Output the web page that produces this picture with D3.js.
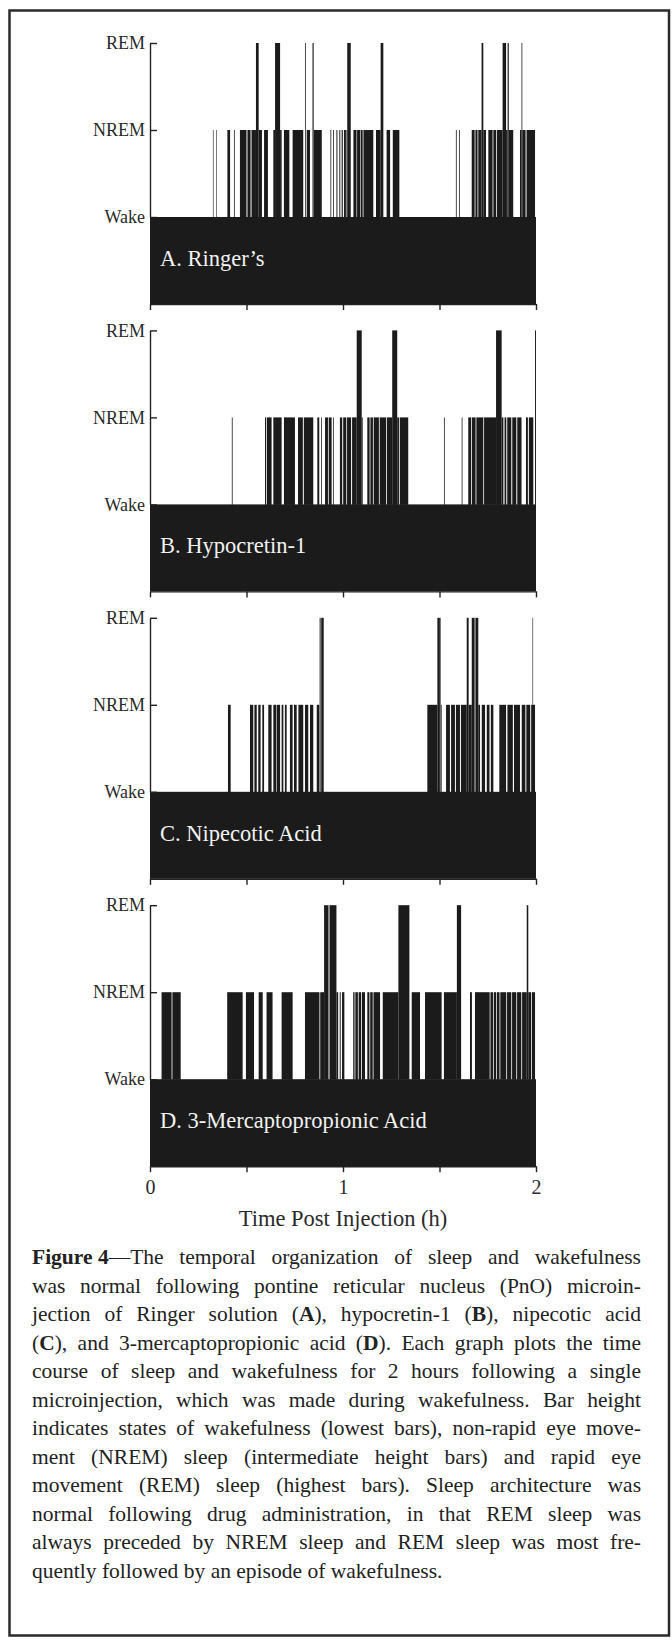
<!DOCTYPE html>
<html><head><meta charset="utf-8">
<script src="https://cdn.jsdelivr.net/npm/d3@7"></script>
<style>
html,body{margin:0;padding:0;background:#fff;}
svg{display:block;}
</style></head><body>
<svg id="chart" width="672" height="1644"></svg>
<script>
// ---------- DATA ----------
const panelLabels = ["A. Ringer\u2019s", "B. Hypocretin-1", "C. Nipecotic Acid", "D. 3-Mercaptopropionic Acid"];
const stateNames = ["Wake", "NREM", "REM"];      // state levels 1,2,3
const timeDomain = [0, 2];                        // hours
const xTicks = [0, 0.5, 1, 1.5, 2];
const xTickLabels = {0: "0", 1: "1", 2: "2"};
const xTitle = "Time Post Injection (h)";

// sleep episodes, [start, end] in hours post injection (wake fills the rest)
const nremA = [[0.326,0.329],[0.344,0.347],[0.401,0.415],[0.435,0.439],[0.466,0.500],[0.505,0.521],[0.526,0.549],
  [0.563,0.580],[0.591,0.611],[0.639,0.648],[0.674,0.682],[0.694,0.722],[0.739,0.794],[0.812,0.829],[0.849,0.890],
  [0.935,0.939],[0.949,0.953],[0.966,0.971],[0.981,0.986],[0.993,0.999],[1.005,1.015],[1.018,1.022],
  [1.054,1.070],[1.073,1.090],[1.093,1.102],[1.106,1.157],[1.171,1.195],[1.226,1.244],[1.258,1.292],
  [1.585,1.589],[1.601,1.605],[1.667,1.682],[1.686,1.697],[1.701,1.718],[1.727,1.741],
  [1.753,1.775],[1.779,1.793],[1.797,1.827],[1.845,1.853],[1.860,1.882],[1.917,1.925],[1.929,1.946],[1.951,1.995]];
const remA = [[0.549,0.563],[0.648,0.674],[0.803,0.807],[0.842,0.848],[1.022,1.040],[1.195,1.209],
  [1.718,1.727],[1.827,1.845],[1.853,1.859],[1.925,1.929]];

const nremB = [[0.424,0.428],[0.596,0.602],[0.606,0.630],[0.639,0.682],[0.694,0.751],[0.767,0.792],[0.797,0.846],
  [0.867,0.877],[0.887,0.891],[0.907,0.922],[0.926,0.941],[0.948,0.952],[0.984,0.996],[1.001,1.017],[1.021,1.042],
  [1.047,1.071],[1.097,1.102],[1.126,1.138],[1.142,1.155],[1.159,1.186],[1.190,1.224],[1.228,1.255],[1.281,1.290],
  [1.294,1.338],[1.523,1.527],[1.615,1.619],[1.649,1.664],[1.668,1.687],[1.691,1.727],[1.731,1.793],[1.822,1.831],
  [1.837,1.846],[1.851,1.872],[1.877,1.898],[1.903,1.925],[1.948,1.958],[1.963,1.986]];
const remB = [[1.071,1.097],[1.255,1.281],[1.793,1.822],[1.995,2.0]];

const nremC = [[0.404,0.418],[0.518,0.535],[0.541,0.553],[0.561,0.573],[0.582,0.591],[0.613,0.630],[0.639,0.655],
  [0.658,0.674],[0.682,0.691],[0.699,0.708],[0.725,0.739],[0.746,0.760],[0.769,0.794],[0.803,0.820],[0.829,0.846],
  [0.864,0.877],[1.437,1.489],[1.507,1.511],[1.534,1.554],[1.560,1.580],[1.585,1.606],[1.611,1.641],[1.651,1.667],
  [1.701,1.710],[1.719,1.736],[1.745,1.759],[1.766,1.779],[1.810,1.845],[1.852,1.880],[1.886,1.917],[1.926,1.945],
  [1.950,1.970],[1.975,1.995]];
const remC = [[0.879,0.884],[0.887,0.900],[1.489,1.502],[1.504,1.507],[1.641,1.651],[1.667,1.682],[1.686,1.701],[1.982,1.985]];

const nremD = [[0.060,0.112],[0.116,0.159],[0.400,0.480],[0.497,0.539],[0.563,0.584],[0.604,0.635],[0.682,0.739],
  [0.803,0.878],[0.882,0.902],[0.966,0.975],[0.983,0.988],[0.995,1.007],[1.053,1.060],[1.064,1.077],[1.081,1.094],
  [1.098,1.114],[1.126,1.137],[1.141,1.154],[1.158,1.192],[1.206,1.287],[1.356,1.399],[1.425,1.511],[1.523,1.590],
  [1.658,1.668],[1.684,1.760],[1.764,1.777],[1.781,1.794],[1.798,1.811],[1.815,1.846],[1.850,1.872],[1.876,1.898],
  [1.902,1.924],[1.928,1.952],[1.960,1.975],[1.979,1.995]];
const remD = [[0.902,0.925],[0.930,0.966],[1.287,1.344],[1.590,1.612],[1.952,1.960]];

const captionLines = [
  "**Figure\u00a04**\u2014The temporal organization of sleep and wakefulness",
  "was normal following pontine reticular nucleus (PnO) microin-",
  "jection of Ringer solution (**A**), hypocretin-1 (**B**), nipecotic acid",
  "(**C**), and 3-mercaptopropionic acid (**D**). Each graph plots the time",
  "course of sleep and wakefulness for 2 hours following a single",
  "microinjection, which was made during wakefulness. Bar height",
  "indicates states of wakefulness (lowest bars), non-rapid eye move-",
  "ment (NREM) sleep (intermediate height bars) and rapid eye",
  "movement (REM) sleep (highest bars). Sleep architecture was",
  "normal following drug administration, in that REM sleep was",
  "always preceded by NREM sleep and REM sleep was most fre-",
  "quently followed by an episode of wakefulness."
];

// ---------- LAYOUT ----------
const FONT = "'Liberation Serif','Times New Roman',serif";
const INK = "#1b1b1b";
const svg = d3.select("#chart");

svg.append("rect").attr("x", 9.5).attr("y", 10.5).attr("width", 659.5).attr("height", 1625)
  .attr("fill", "none").attr("stroke", "#2a2a2a").attr("stroke-width", 2.5);

const x = d3.scaleLinear().domain(timeDomain).range([150, 536]);
const panelTop0 = 43, panelStep = 287.4, levelGap = 87;
const y = d3.scaleLinear().domain([1, 3]).range([2 * levelGap, 0]);   // y(0) = bottom of bars

const panels = [
  {nrem: nremA, rem: remA}, {nrem: nremB, rem: remB},
  {nrem: nremC, rem: remC}, {nrem: nremD, rem: remD}
];

panels.forEach((p, i) => {
  const g = svg.append("g").attr("transform", `translate(0,${panelTop0 + i * panelStep})`);
  g.append("rect").attr("x", x(timeDomain[0])).attr("width", x(timeDomain[1]) - x(timeDomain[0]))
    .attr("y", y(1)).attr("height", y(0) - y(1)).attr("fill", INK);
  g.selectAll("rect.nrem").data(p.nrem).join("rect").attr("class", "nrem")
    .attr("x", d => x(d[0])).attr("width", d => x(d[1]) - x(d[0]))
    .attr("y", y(2)).attr("height", y(1) - y(2) + 0.5).attr("fill", INK);
  g.selectAll("rect.rem").data(p.rem).join("rect").attr("class", "rem")
    .attr("x", d => x(d[0])).attr("width", d => x(d[1]) - x(d[0]))
    .attr("y", y(3)).attr("height", y(1) - y(3) + 0.5).attr("fill", INK);

  const ya = g.append("g").attr("transform", `translate(${x(0)},0)`)
    .call(d3.axisLeft(y).tickValues([1, 2, 3]).tickFormat(d => stateNames[d - 1])
      .tickSize(-7).tickSizeOuter(0).tickPadding(5));
  ya.selectAll("path,line").attr("stroke", "#222").attr("stroke-width", 1.4);
  ya.selectAll("text").attr("font-family", FONT).attr("font-size", 18).attr("fill", "#2a2a2a");

  const xa = g.append("g").attr("transform", `translate(0,${y(0)})`)
    .call(d3.axisBottom(x).tickValues(xTicks).tickSize(6).tickSizeOuter(0).tickPadding(8)
      .tickFormat(d => i === panels.length - 1 ? (xTickLabels[d] || "") : ""));
  xa.selectAll("path,line").attr("stroke", "#222").attr("stroke-width", 1.4);
  xa.selectAll("text").attr("font-family", FONT).attr("font-size", 20).attr("fill", "#2a2a2a");

  g.append("text").attr("x", x(0) + 10).attr("y", y(1) + 49)
    .attr("font-family", FONT).attr("font-size", 22.5).attr("fill", "#f2f2f2")
    .text(panelLabels[i]);
});

const lastBottom = panelTop0 + 3 * panelStep + y(0);
svg.append("text").attr("x", (x(0) + x(2)) / 2).attr("y", lastBottom + 60)
  .attr("text-anchor", "middle").attr("font-family", FONT).attr("font-size", 22.5).attr("fill", "#2a2a2a")
  .text(xTitle);

// ---------- CAPTION (justified) ----------
const capX0 = 32, capX1 = 641, capY0 = lastBottom + 98, capLH = 28.5;
const cap = svg.append("g").attr("font-family", FONT).attr("font-size", 21.5).attr("fill", "#222");
captionLines.forEach((line, li) => {
  const words = line.split(" ");
  const yy = capY0 + li * capLH;
  const nodes = words.map(w => {
    const t = cap.append("text").attr("y", yy);
    w.split(/(\*\*[^*]+\*\*)/).filter(s => s).forEach(seg => {
      if (seg.startsWith("**")) t.append("tspan").attr("font-weight", "bold").text(seg.slice(2, -2));
      else t.append("tspan").text(seg);
    });
    return t;
  });
  const widths = nodes.map(n => n.node().getComputedTextLength());
  const total = d3.sum(widths);
  const last = li === captionLines.length - 1;
  const gap = last ? 5.4 : (capX1 - capX0 - total) / (words.length - 1);
  let xx = capX0;
  nodes.forEach((n, k) => { n.attr("x", xx); xx += widths[k] + gap; });
});
</script>
</body></html>
